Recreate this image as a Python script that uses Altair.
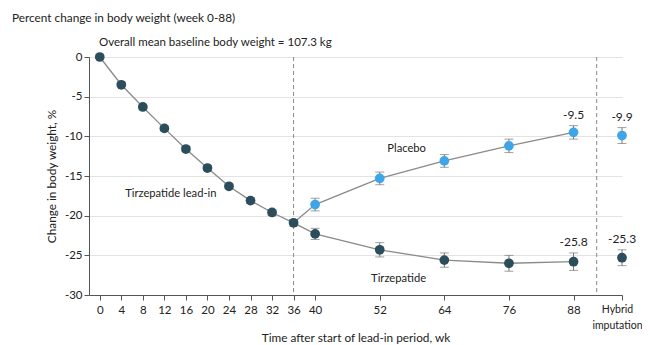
import altair as alt
import pandas as pd

# ---- data ----
lead_weeks = [0, 4, 8, 12, 16, 20, 24, 28, 32, 36]
lead_vals = [0.0, -3.5, -6.3, -9.0, -11.6, -14.0, -16.3, -18.1, -19.6, -20.9]
lead_err = [0.0, 0.2, 0.25, 0.3, 0.3, 0.3, 0.3, 0.35, 0.35, 0.4]

rand_weeks = [36, 40, 52, 64, 76, 88]
placebo_vals = [-20.9, -18.6, -15.3, -13.1, -11.2, -9.5]
placebo_err = [0.4, 0.8, 0.8, 0.8, 0.85, 0.85]
tirz_vals = [-20.9, -22.3, -24.3, -25.6, -26.0, -25.8]
tirz_err = [0.4, 0.7, 0.9, 0.9, 1.0, 1.1]

hybrid_week = 97
hybrid_placebo = -9.9
hybrid_placebo_err = 1.0
hybrid_tirz = -25.3
hybrid_tirz_err = 1.0

x_ticks = [0, 4, 8, 12, 16, 20, 24, 28, 32, 36, 40, 52, 64, 76, 88, 97]
y_ticks = [0, -5, -10, -15, -20, -25, -30]

DARK = "#2b4d5c"
BLUE = "#3ea6e8"
LINE = "#8a8a8a"
FONT = "Lato"

rows = []
for w, v, e in zip(lead_weeks, lead_vals, lead_err):
    rows.append(dict(week=w, val=v, lo=v - e, hi=v + e, grp="lead", col="dark"))
for w, v, e in zip(rand_weeks[1:], placebo_vals[1:], placebo_err[1:]):
    rows.append(dict(week=w, val=v, lo=v - e, hi=v + e, grp="placebo", col="blue"))
for w, v, e in zip(rand_weeks[1:], tirz_vals[1:], tirz_err[1:]):
    rows.append(dict(week=w, val=v, lo=v - e, hi=v + e, grp="tirz", col="dark"))
rows.append(dict(week=hybrid_week, val=hybrid_placebo, lo=hybrid_placebo - hybrid_placebo_err,
                 hi=hybrid_placebo + hybrid_placebo_err, grp="hp", col="blue"))
rows.append(dict(week=hybrid_week, val=hybrid_tirz, lo=hybrid_tirz - hybrid_tirz_err,
                 hi=hybrid_tirz + hybrid_tirz_err, grp="ht", col="dark"))
pts = pd.DataFrame(rows)

lines = pd.DataFrame(
    [dict(week=w, val=v, grp="lead") for w, v in zip(lead_weeks, lead_vals)]
    + [dict(week=w, val=v, grp="placebo") for w, v in zip(rand_weeks, placebo_vals)]
    + [dict(week=w, val=v, grp="tirz") for w, v in zip(rand_weeks, tirz_vals)]
)

xscale = alt.Scale(domain=[-2, 97], nice=False, zero=False)
yscale = alt.Scale(domain=[-30, 0], nice=False)

x_axis = alt.Axis(
    values=x_ticks, title="Time after start of lead-in period, wk",
    labelExpr="datum.value == 97 ? ['Hybrid', 'imputation'] : toString(datum.value)",
    labelOverlap=False, labelBound=False, labelLineHeight=16,
    labelOffset={"condition": {"test": "datum.value == 97", "value": -5}, "value": 0},
    labelFontSize={"condition": {"test": "datum.value == 97", "value": 10.5}, "value": 11.5},
    grid=False, domainColor="#555", tickColor="#555", tickSize=5,
    labelColor="#222", labelPadding=4, labelFont=FONT,
    titleFont=FONT, titleFontSize=11.8, titleFontWeight="normal", titleColor="#222",
    titleY=42, titleBaseline="middle", labelFlush=False)
y_axis = alt.Axis(
    values=y_ticks, title="Change in body weight, %", grid=True, gridColor="#e3e3e3",
    labelExpr="toString(datum.value)", labelOverlap=False,
    domainColor="#555", tickColor="#555", tickSize=5, labelColor="#222",
    labelFontSize=11.5, labelFont=FONT, titleFont=FONT, titleFontSize=11.8,
    titleFontWeight="normal", titleColor="#222", titlePadding=7, labelPadding=2)


def X(field):
    return alt.X(field, scale=xscale, axis=x_axis)


def Y(field):
    return alt.Y(field, scale=yscale, axis=y_axis)


color_scale = alt.Scale(domain=["dark", "blue"], range=[DARK, BLUE])

line_layer = alt.Chart(lines).mark_line(color=LINE, strokeWidth=1.3).encode(
    x=X("week:Q"), y=Y("val:Q"), detail="grp:N")

err_layer = alt.Chart(pts).mark_rule(color="#777", strokeWidth=1).encode(
    x=X("week:Q"), y=Y("lo:Q"), y2="hi:Q")
cap_lo = alt.Chart(pts[pts.week > 0]).mark_tick(color="#777", orient="horizontal", size=9, thickness=1).encode(
    x=X("week:Q"), y=Y("lo:Q"))
cap_hi = alt.Chart(pts[pts.week > 0]).mark_tick(color="#777", orient="horizontal", size=9, thickness=1).encode(
    x=X("week:Q"), y=Y("hi:Q"))

pt_layer = alt.Chart(pts).mark_circle(size=95, opacity=1).encode(
    x=X("week:Q"), y=Y("val:Q"),
    color=alt.Color("col:N", scale=color_scale, legend=None))

vlines = pd.DataFrame({"week": [36, 92.3]})
vline_layer = alt.Chart(vlines).mark_rule(color="#888", strokeDash=[4, 3], strokeWidth=1).encode(
    x=X("week:Q"), y=alt.value(0), y2=alt.value(238))

val_labels = pd.DataFrame({
    "week": [88, hybrid_week, 88, hybrid_week],
    "hi": [placebo_vals[-1] + placebo_err[-1], hybrid_placebo + hybrid_placebo_err,
           tirz_vals[-1] + tirz_err[-1], hybrid_tirz + hybrid_tirz_err],
    "txt": ["-9.5", "-9.9", "-25.8", "-25.3"],
})
val_text = alt.Chart(val_labels).mark_text(font=FONT, fontSize=12, color="#222", baseline="bottom", dy=-4).encode(
    x=X("week:Q"), y=Y("hi:Q"), text="txt:N")

series_labels = pd.DataFrame({
    "week": [57.0, 55.5, 13.2],
    "val": [-11.6, -28.0, -17.3],
    "txt": ["Placebo", "Tirzepatide", "Tirzepatide lead-in"],
})
series_text = alt.Chart(series_labels).mark_text(font=FONT, fontSize=11.2, color="#222").encode(
    x=X("week:Q"), y=Y("val:Q"), text="txt:N")

note = alt.Chart(pd.DataFrame({"t": ["Overall mean baseline body weight = 107.3 kg"]})).mark_text(
    font=FONT, fontSize=11.5, color="#222", align="left", baseline="middle").encode(
    x=alt.value(10), y=alt.value(-14), text="t:N")

chart = alt.layer(
    vline_layer, line_layer, err_layer, cap_lo, cap_hi, pt_layer, val_text, series_text, note
).properties(
    width=533, height=238,
    title=alt.TitleParams("Percent change in body weight (week 0-88)", anchor="start",
                          frame="group", font=FONT, fontSize=11.8, fontWeight="normal",
                          color="#222", dx=-77, offset=12),
    autosize=alt.AutoSizeParams(type="none"),
    padding={"left": 81, "top": 49, "right": 20, "bottom": 50},
).configure_view(stroke=None).configure_title(orient="top").configure_axisX(
    labelOverlap=False).configure_axisY(labelOverlap=False)

chart.save("out.html", embed_options={"renderer": "svg", "actions": False})
